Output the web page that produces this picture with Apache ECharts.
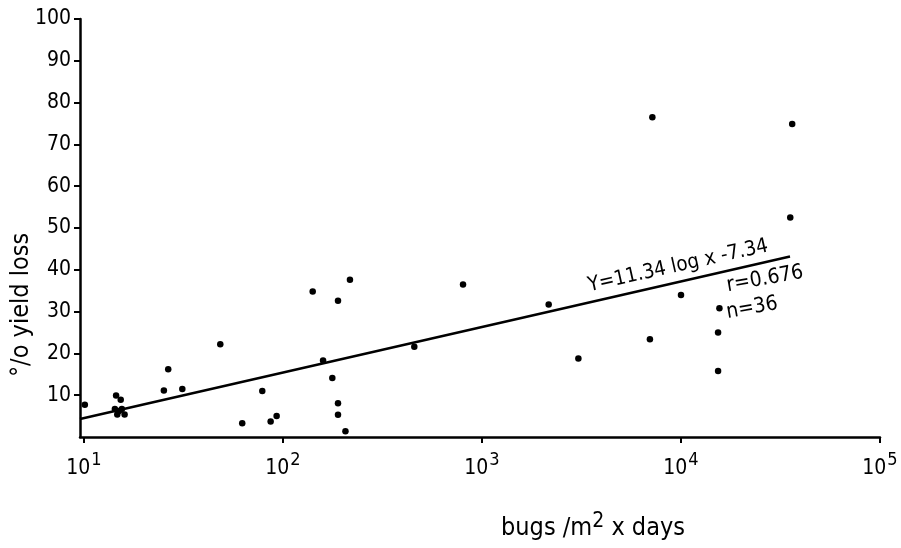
<!DOCTYPE html>
<html><head><meta charset="utf-8">
<script src="https://cdn.jsdelivr.net/npm/echarts@6/dist/echarts.min.js"></script>
<style>html,body{margin:0;padding:0;background:#fff}#c{width:901px;height:548px}</style>
</head><body><div id="c"></div>
<script>
// bugs/m2 x days (x) and % yield loss (y)
const bugDays = [10.1, 14.5, 15.3, 14.3, 15.5, 14.7, 16.0, 15.0,
  25.2, 26.5, 31.2, 48.4, 62.4, 78.7, 86.7, 92.9,
  141, 159, 177, 189, 189, 189, 206, 217,
  457, 803, 2163, 3050, 6980, 7180, 10000,
  15600, 15360, 15360, 35400, 36200];
const yieldLoss = [7.7, 9.9, 8.9, 6.7, 6.7, 5.4, 5.4, 6.2,
  11.1, 16.2, 11.5, 22.2, 3.3, 11.0, 3.7, 5.0,
  34.8, 18.3, 14.1, 32.6, 8.1, 5.3, 1.4, 37.6,
  21.6, 36.5, 31.7, 18.8, 23.4, 76.5, 34.0,
  30.8, 25.0, 15.8, 52.5, 74.9];
// regression line end points as drawn
const fitX = [9.55, 35300];
const fitY = [4.3, 43.2];
const xTicks = [1, 2, 3, 4, 5];      // exponents of 10
const yTicks = [10, 20, 30, 40, 50, 60, 70, 80, 90, 100];
const eqText = 'Y=11.34 log x -7.34';
const rText = 'r=0.676';
const nText = 'n=36';

const FONT = '"DejaVu Sans Condensed", "DejaVu Sans", sans-serif';
const chart = echarts.init(document.getElementById('c'), null, {renderer: 'canvas'});
const rot = 12.6 * Math.PI / 180;
chart.setOption({
  animation: false,
  backgroundColor: '#fff',
  grid: {left: 80, right: 21, top: 19, bottom: 111, containLabel: false},
  xAxis: {
    type: 'log', logBase: 10, min: 9.55, max: 100000,
    axisLine: {lineStyle: {color: '#000', width: 2.5}},
    axisTick: {show: true, length: 6, lineStyle: {color: '#000', width: 2}},
    splitLine: {show: false},
    axisLabel: {
      showMinLabel: false, margin: 14, color: '#000',
      formatter: function (v) {
        const e = Math.round(Math.log10(v));
        if (xTicks.indexOf(e) < 0) return '';
        return '{b|10}{s|' + e + '}';
      },
      rich: {
        b: {fontFamily: FONT, fontSize: 21, color: '#000', verticalAlign: 'bottom'},
        s: {fontFamily: FONT, fontSize: 18, color: '#000', verticalAlign: 'bottom', padding: [0, 0, 10, 1]}
      }
    }
  },
  yAxis: {
    type: 'value', min: 0, max: 100, interval: 10,
    axisLine: {show: true, lineStyle: {color: '#000', width: 2.5}},
    axisTick: {show: true, length: 6, lineStyle: {color: '#000', width: 2}},
    splitLine: {show: false},
    axisLabel: {
      showMinLabel: false, margin: 9, color: '#000', fontFamily: FONT, fontSize: 21,
      formatter: function (v) { return yTicks.indexOf(v) >= 0 ? String(v) : ''; }
    }
  },
  series: [
    {
      type: 'line', data: fitX.map((x, i) => [x, fitY[i]]),
      symbol: 'none', lineStyle: {color: '#000', width: 2.5}, z: 2
    },
    {
      type: 'scatter', data: bugDays.map((x, i) => [x, yieldLoss[i]]),
      symbol: 'circle', symbolSize: 6.5, itemStyle: {color: '#000', opacity: 1}, z: 3
    }
  ],
  graphic: [
    {type: 'text', x: 21, y: 305, rotation: Math.PI / 2,
     style: {text: '°/o yield loss', fontFamily: FONT, fontSize: 25, fill: '#000', align: 'center', verticalAlign: 'middle'}},
    {type: 'text', x: 593, y: 528,
     style: {text: 'bugs /m{s|2} x days', fontFamily: FONT, fontSize: 25, fill: '#000', align: 'center', verticalAlign: 'middle',
       rich: {s: {fontFamily: FONT, fontSize: 21, fill: '#000', padding: [0, 0, 12, 0]}}}},
    {type: 'text', x: 678, y: 266, rotation: rot,
     style: {text: eqText, fontFamily: FONT, fontSize: 20.5, fill: '#000', align: 'center', verticalAlign: 'middle'}},
    {type: 'text', x: 765, y: 279, rotation: rot * 0.8,
     style: {text: rText, fontFamily: FONT, fontSize: 21, fill: '#000', align: 'center', verticalAlign: 'middle'}},
    {type: 'text', x: 752, y: 308, rotation: rot * 0.8,
     style: {text: nText, fontFamily: FONT, fontSize: 21, fill: '#000', align: 'center', verticalAlign: 'middle'}}
  ]
});
</script></body></html>
